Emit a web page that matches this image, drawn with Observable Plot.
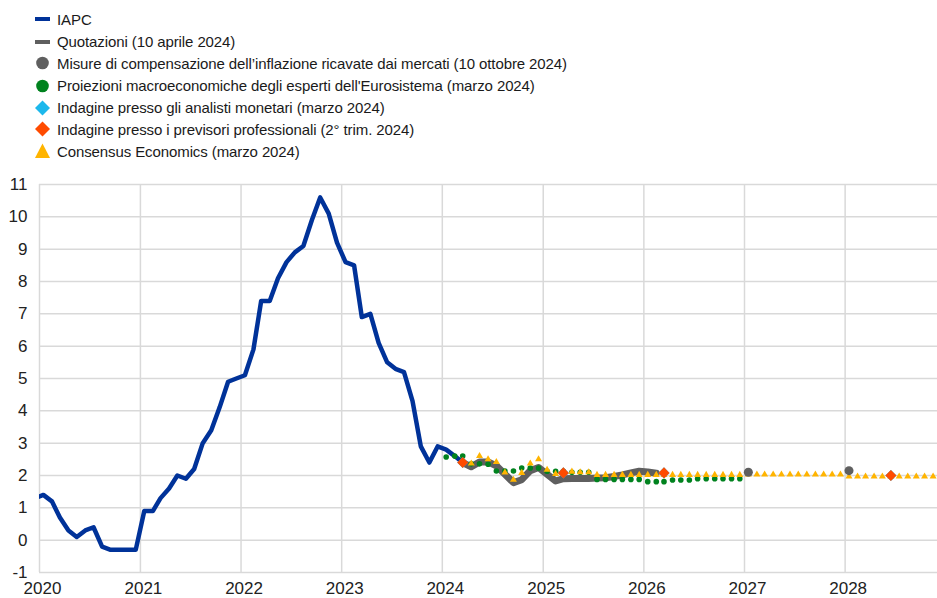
<!DOCTYPE html>
<html><head><meta charset="utf-8">
<script src="https://cdn.jsdelivr.net/npm/d3@7"></script>
<script src="https://cdn.jsdelivr.net/npm/@observablehq/plot@0.6"></script>
<style>
body{margin:0;background:#fff;font-family:"Liberation Sans Narrow","Arial Narrow","Liberation Sans",Arial,sans-serif;}
#legend{position:relative;height:170px;width:937px;}
.item{position:absolute;left:0;height:22px;display:flex;align-items:center;font-size:15px;color:#1a1a1a;white-space:nowrap;letter-spacing:-0.1px;}
.item svg{margin-left:33px;margin-right:5px;flex:none}
#chart svg{display:block}
</style></head><body>
<div id="legend"></div><div id="chart"></div>
<script>
// ---- data ----
const yearTicks = [2020, 2021, 2022, 2023, 2024, 2025, 2026, 2027, 2028];
const yTicks = [-1, 0, 1, 2, 3, 4, 5, 6, 7, 8, 9, 10, 11];

const seriesNames = [
  "IAPC",
  "Quotazioni (10 aprile 2024)",
  "Misure di compensazione dell\u2019inflazione ricavate dai mercati (10 ottobre 2024)",
  "Proiezioni macroeconomiche degli esperti dell'Eurosistema (marzo 2024)",
  "Indagine presso gli analisti monetari (marzo 2024)",
  "Indagine presso i previsori professionali (2\u00b0 trim. 2024)",
  "Consensus Economics (marzo 2024)"
];
const seriesColors = ["#003299", "#5f5f5f", "#5f5f5f", "#00821e", "#1cb8ec", "#ff4b00", "#ffb400"];

// IAPC monthly from 2019-12 to 2024-03
const iapcStart = [2019, 12];
const iapc = [
  1.3,
  1.4, 1.2, 0.7, 0.3, 0.1, 0.3, 0.4, -0.2, -0.3, -0.3, -0.3, -0.3,
  0.9, 0.9, 1.3, 1.6, 2.0, 1.9, 2.2, 3.0, 3.4, 4.1, 4.9, 5.0,
  5.1, 5.9, 7.4, 7.4, 8.1, 8.6, 8.9, 9.1, 9.9, 10.6, 10.1, 9.2,
  8.6, 8.5, 6.9, 7.0, 6.1, 5.5, 5.3, 5.2, 4.3, 2.9, 2.4, 2.9,
  2.8, 2.6, 2.4
];
// Quotazioni (fixings) monthly from 2024-03 to 2026-02
const quotStart = [2024, 3];
const quot = [
  2.4, 2.27, 2.42, 2.42, 2.3, 2.04, 1.78, 1.87, 2.15, 2.25,
  2.04, 1.83, 1.9, 1.91, 1.91, 1.91, 1.92, 1.93, 1.97, 2.02, 2.08, 2.13,
  2.11, 2.07
];
// Market-based compensation (10 Oct 2024)
const mcDates = ["2027-01-15", "2028-01-15"];
const mcValues = [2.1, 2.15];
// Eurosystem staff projections monthly from 2024-01 to 2026-12
const eurosysStart = [2024, 1];
const eurosys = [
  2.57, 2.6, 2.6, 2.36, 2.36, 2.35, 2.14, 2.14, 2.14, 2.23, 2.23, 2.23,
  2.13, 2.13, 2.13, 2.1, 2.1, 2.1, 1.88, 1.88, 1.88, 1.88, 1.88, 1.88,
  1.81, 1.81, 1.81, 1.86, 1.86, 1.86, 1.9, 1.9, 1.9, 1.9, 1.9, 1.9
];
// Survey of Monetary Analysts (March 2024)
const smaDates = ["2024-03-15", "2025-03-15", "2026-03-15", "2028-06-15"];
const smaValues = [2.4, 2.08, 2.08, 2.0];
// Survey of Professional Forecasters (Q2 2024)
const spfDates = ["2024-03-15", "2025-03-15", "2026-03-15", "2028-06-15"];
const spfValues = [2.4, 2.08, 2.08, 2.0];
// Consensus Economics monthly from 2024-04 to 2028-12
const consStart = [2024, 4];
const cons = [
  2.37, 2.6, 2.5, 2.42, 2.09, 1.87, 2.08, 2.37, 2.5,
  2.18, 2.05, 2.08, 2.12, 2.1, 2.1, 2.02, 2.02, 2.02, 2.02, 2.02, 2.02,
  2.02, 2.02, 2.02, 2.02, 2.02, 2.02, 2.02, 2.02, 2.02, 2.02, 2.02, 2.02,
  2.03, 2.03, 2.03, 2.03, 2.03, 2.03, 2.03, 2.03, 2.03, 2.03, 2.03, 2.03,
  1.97, 1.97, 1.97, 1.97, 1.97, 1.97, 1.97, 1.97, 1.97, 1.97, 1.97, 1.97
];

// ---- helpers ----
const monthly = (start, vals) => vals.map((v, i) => ({date: new Date(Date.UTC(start[0], start[1] - 1 + i, 15)), value: v}));
const dated = (ds, vals) => ds.map((d, i) => ({date: new Date(d + "T00:00:00Z"), value: vals[i]}));

const iapcData = monthly(iapcStart, iapc);
const quotData = monthly(quotStart, quot);
const eurosysData = monthly(eurosysStart, eurosys);
const consData = monthly(consStart, cons);
const mcData = dated(mcDates, mcValues);
const smaData = dated(smaDates, smaValues);
const spfData = dated(spfDates, spfValues);
const yearDates = yearTicks.map(y => new Date(Date.UTC(y, 0, 1)));

// ---- legend ----
const markerSvg = [
  `<line x1="2" x2="17" y1="9" y2="9" stroke="${seriesColors[0]}" stroke-width="4"/>`,
  `<line x1="2" x2="17" y1="9" y2="9" stroke="${seriesColors[1]}" stroke-width="4"/>`,
  `<circle cx="9.5" cy="9" r="6.3" fill="${seriesColors[2]}"/>`,
  `<circle cx="9.5" cy="9" r="6.3" fill="${seriesColors[3]}"/>`,
  `<polygon points="9.5,1.5 17,9 9.5,16.5 2,9" fill="${seriesColors[4]}"/>`,
  `<polygon points="9.5,1.5 17,9 9.5,16.5 2,9" fill="${seriesColors[5]}"/>`,
  `<polygon points="9.5,1.5 17,16 2,16" fill="${seriesColors[6]}"/>`
];
const legendY = [19, 41.5, 63.3, 85.5, 107.5, 129.3, 151.3];
const legend = document.getElementById("legend");
seriesNames.forEach((name, i) => {
  const div = document.createElement("div");
  div.className = "item";
  div.style.top = (legendY[i] - 11) + "px";
  div.innerHTML = `<svg width="19" height="18" viewBox="0 0 19 18">${markerSvg[i]}</svg><span>${name}</span>`;
  legend.appendChild(div);
});

// ---- chart ----
const chart = Plot.plot({
  width: 937,
  height: 428,
  marginLeft: 39,
  marginRight: 0,
  marginTop: 14,
  marginBottom: 26,
  style: {fontFamily: '"Liberation Sans Narrow","Arial Narrow","Liberation Sans",Arial,sans-serif', fontSize: "17px", color: "#222", background: "white", overflow: "visible"},
  x: {type: "utc", domain: [new Date(Date.UTC(2020, 0, 1)), new Date(Date.UTC(2028, 11, 1))], label: null},
  y: {domain: [-1, 11], label: null},
  marks: [
    Plot.gridY(yTicks, {stroke: "#d9d9d9", strokeOpacity: 1, strokeWidth: 1.5}),
    Plot.gridX(yearDates, {stroke: "#d9d9d9", strokeOpacity: 1, strokeWidth: 1.5}),
    Plot.axisY(yTicks, {tickSize: 0, tickPadding: 12, tickFormat: d => String(d), fontSize: 17, label: null}),
    Plot.axisX(yearDates, {tickSize: 0, tickPadding: 9, dx: 3, tickFormat: d3.utcFormat("%Y"), fontSize: 17, label: null}),
    Plot.line(iapcData, {x: "date", y: "value", stroke: seriesColors[0], strokeWidth: 4.5, strokeLinejoin: "round", clip: true}),
    Plot.line(quotData, {x: "date", y: "value", stroke: seriesColors[1], strokeWidth: 7, strokeLinejoin: "round", strokeLinecap: "round"}),
    Plot.dot(eurosysData, {x: "date", y: "value", fill: seriesColors[3], r: 2.8}),
    Plot.dot(consData, {x: "date", y: "value", fill: seriesColors[6], symbol: "triangle", r: 2.6}),
    Plot.dot(smaData, {x: "date", y: "value", fill: seriesColors[4], symbol: "diamond2", r: 5}),
    Plot.dot(spfData, {x: "date", y: "value", fill: seriesColors[5], symbol: "diamond2", r: 5}),
    Plot.dot(mcData, {x: "date", y: "value", fill: seriesColors[2], r: 4.5})
  ]
});
document.getElementById("chart").appendChild(chart);
</script></body></html>
